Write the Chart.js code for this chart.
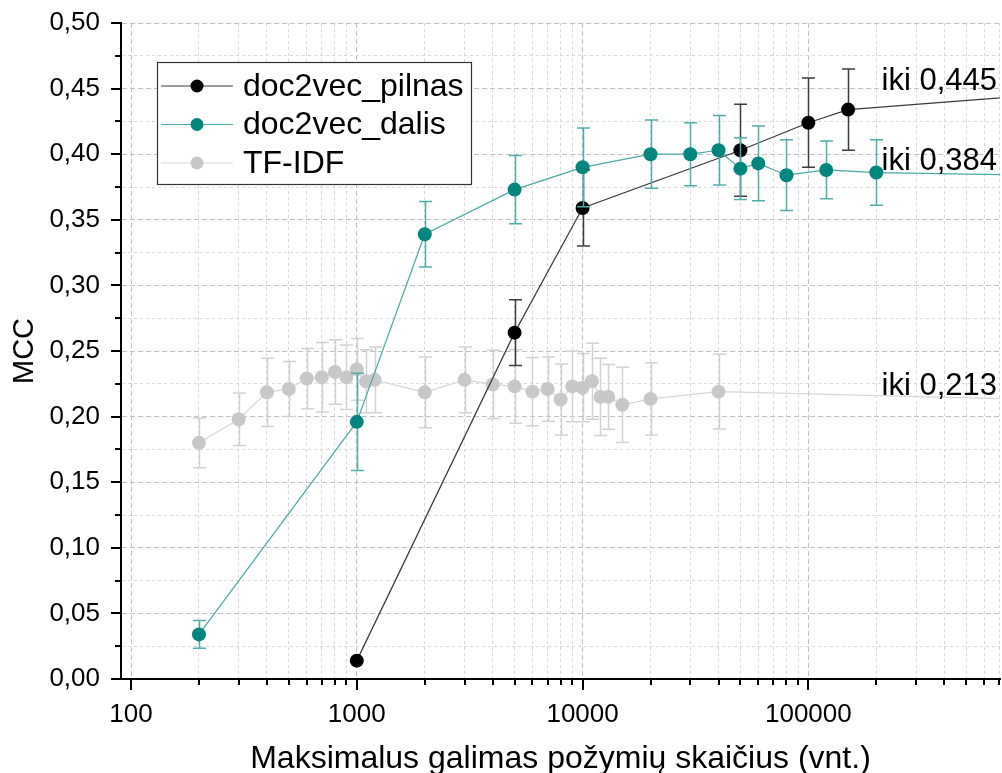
<!DOCTYPE html>
<html>
<head>
<meta charset="utf-8">
<script src="https://cdn.jsdelivr.net/npm/chart.js@4.4.0/dist/chart.umd.min.js"></script>
<style>
  html, body { margin: 0; padding: 0; background: #fff; }
  #box { width: 1002px; height: 773px; }
</style>
</head>
<body>
<div id="box"><canvas id="mcc"></canvas></div>
<script>
// feature count (x) and MCC (y) with +/- spread per run
const pilnasX = [1000, 5000, 10000, 50000, 100000, 150000, 1000000];
const pilnasY = [0.014, 0.264, 0.359, 0.403, 0.424, 0.434, 0.445];
const pilnasErr = [0, 0.025, 0.029, 0.035, 0.034, 0.031, 0];

const dalisX = [200, 1000, 2000, 5000, 10000, 20000, 30000, 40000, 50000, 60000, 80000, 120000, 200000, 1000000];
const dalisY = [0.034, 0.196, 0.339, 0.373, 0.390, 0.400, 0.400, 0.403, 0.389, 0.393, 0.384, 0.388, 0.386, 0.384];
const dalisErr = [0.0105, 0.037, 0.025, 0.026, 0.030, 0.026, 0.024, 0.0265, 0.0235, 0.0285, 0.027, 0.022, 0.025, 0];

const tfidfX = [200, 300, 400, 500, 600, 700, 800, 900, 1000, 1100, 1200, 2000, 3000, 4000, 5000,
  6000, 7000, 8000, 9000, 10000, 11000, 12000, 13000, 15000, 20000, 40000, 1000000];
const tfidfY = [0.180, 0.198, 0.2185, 0.221, 0.229, 0.230, 0.234, 0.230, 0.236, 0.227, 0.228, 0.2185, 0.228, 0.2245, 0.223,
  0.219, 0.221, 0.213, 0.223, 0.222, 0.227, 0.215, 0.215, 0.209, 0.2135, 0.219, 0.213];
const tfidfErr = [0.019, 0.020, 0.026, 0.021, 0.023, 0.0265, 0.0245, 0.0245, 0.0235, 0.024, 0.025, 0.027, 0.025, 0.026, 0.028,
  0.026, 0.0245, 0.027, 0.027, 0.026, 0.029, 0.0295, 0.0247, 0.0287, 0.0275, 0.0285, 0];

const seriesNames = ["doc2vec_pilnas", "doc2vec_dalis", "TF-IDF"];
const decades = [100, 1000, 10000, 100000];
const xMin = 90.3;
const xMax = 706000;

const FONT = "'Liberation Sans', Arial, sans-serif";

function points(xs, ys) {
  return xs.map((x, i) => ({ x: x, y: ys[i] }));
}

// log axis: 1..9 x 10^n, labels only on the decades
function xTickList() {
  const out = [];
  decades.forEach(d => {
    for (let m = 1; m <= 9; m++) {
      const v = d * m;
      if (v >= xMin && v <= xMax) out.push({ value: v, major: m === 1 });
    }
  });
  return out;
}

function yTickList() {
  const out = [];
  for (let i = 0; i <= 20; i++) out.push({ value: i * 0.025, major: i % 2 === 0 });
  return out;
}

const comma = (v, d) => v.toFixed(d).replace(".", ",");

const errorBars = {
  id: "errorBars",
  beforeDatasetDraw(chart, args) {
    const ds = chart.data.datasets[args.index];
    if (!ds.errors) return;
    const { ctx, chartArea: a } = chart;
    const y = chart.scales.y;
    ctx.save();
    ctx.beginPath();
    ctx.rect(a.left, a.top, a.right - a.left, a.bottom - a.top);
    ctx.clip();
    ctx.strokeStyle = ds.errorColor;
    ctx.lineWidth = 1.5;
    ctx.beginPath();
    args.meta.data.forEach((pt, i) => {
      const e = ds.errors[i];
      if (!e) return;
      const v = ds.data[i].y;
      const top = y.getPixelForValue(v + e);
      const bot = y.getPixelForValue(v - e);
      const cx = Math.round(pt.x) + 0.5;
      ctx.moveTo(cx, top);
      ctx.lineTo(cx, bot);
      ctx.moveTo(cx - 6.5, top);
      ctx.lineTo(cx + 6.5, top);
      ctx.moveTo(cx - 6.5, bot);
      ctx.lineTo(cx + 6.5, bot);
    });
    ctx.stroke();
    ctx.restore();
  }
};

const tickMarks = {
  id: "tickMarks",
  afterDraw(chart) {
    const { ctx, chartArea: a, scales: { x, y } } = chart;
    ctx.save();
    ctx.strokeStyle = "#000";
    ctx.lineWidth = 2;
    ctx.beginPath();
    y.ticks.forEach(t => {
      const py = Math.round(y.getPixelForValue(t.value));
      ctx.moveTo(a.left - (t.major ? 10 : 6), py);
      ctx.lineTo(a.left, py);
    });
    x.ticks.forEach(t => {
      const px = Math.round(x.getPixelForValue(t.value));
      ctx.moveTo(px, a.bottom);
      ctx.lineTo(px, a.bottom + (t.major ? 11 : 6));
    });
    ctx.stroke();
    ctx.restore();
  }
};

// "iki ..." notes for the value each curve tends to
const endLabels = {
  id: "endLabels",
  afterDatasetsDraw(chart) {
    const { ctx, chartArea: a } = chart;
    const y = chart.scales.y;
    ctx.save();
    ctx.font = "31px " + FONT;
    ctx.fillStyle = "#000";
    ctx.textAlign = "right";
    ctx.textBaseline = "alphabetic";
    chart.data.datasets.forEach(ds => {
      const last = ds.data[ds.data.length - 1].y;
      ctx.fillText("iki " + comma(last, 3), a.right - 3, y.getPixelForValue(last) - 5);
    });
    ctx.restore();
  }
};

const boxLegend = {
  id: "boxLegend",
  afterDatasetsDraw(chart) {
    const { ctx, chartArea: a } = chart;
    const left = a.left + 36, top = a.top + 39, w = 314, h = 122;
    ctx.save();
    ctx.fillStyle = "#fff";
    ctx.fillRect(left, top, w, h);
    ctx.strokeStyle = "#333";
    ctx.lineWidth = 1.2;
    ctx.strokeRect(left + 0.5, top + 0.5, w, h);
    ctx.font = "32px " + FONT;
    ctx.textBaseline = "middle";
    seriesNames.forEach((name, i) => {
      const ds = chart.data.datasets.find(d => d.label === name);
      const cy = top + 24 + i * 38.5;
      ctx.strokeStyle = ds.borderColor;
      ctx.lineWidth = 1.2;
      ctx.beginPath();
      ctx.moveTo(left + 4, cy);
      ctx.lineTo(left + 76, cy);
      ctx.stroke();
      ctx.fillStyle = ds.pointBackgroundColor;
      ctx.beginPath();
      ctx.arc(left + 40, cy, 6.5, 0, Math.PI * 2);
      ctx.fill();
      ctx.fillStyle = "#000";
      ctx.fillText(name, left + 86, cy + 1);
    });
    ctx.restore();
  }
};

const markerSize = c => (c.raw && c.raw.x > xMax ? 0 : 7);

const gridColor = c => (c.tick && c.tick.major ? "#c0c0c0" : "#d8d8d8");
const gridDash = c => (c.tick ? (c.tick.major ? [5, 3] : [3, 3]) : []);

new Chart(document.getElementById("mcc"), {
  type: "line",
  data: {
    datasets: [
      {
        label: seriesNames[1],
        data: points(dalisX, dalisY),
        errors: dalisErr,
        errorColor: "#4fadaa",
        borderColor: "#4aa9a6",
        pointBackgroundColor: "#00857f",
        pointBorderWidth: 0,
        pointRadius: markerSize,
        borderWidth: 1.2,
        order: 0
      },
      {
        label: seriesNames[0],
        data: points(pilnasX, pilnasY),
        errors: pilnasErr,
        errorColor: "#3c3c3c",
        borderColor: "#3a3a3a",
        pointBackgroundColor: "#000",
        pointBorderWidth: 0,
        pointRadius: markerSize,
        borderWidth: 1.2,
        order: 1
      },
      {
        label: seriesNames[2],
        data: points(tfidfX, tfidfY),
        errors: tfidfErr,
        errorColor: "#d2d2d2",
        borderColor: "#d6d6d6",
        pointBackgroundColor: "#c8c8c8",
        pointBorderWidth: 0,
        pointRadius: markerSize,
        borderWidth: 1.2,
        order: 2
      }
    ]
  },
  options: {
    responsive: true,
    maintainAspectRatio: false,
    animation: false,
    devicePixelRatio: 1,
    layout: { autoPadding: false, padding: { top: 23, right: 2, left: 0, bottom: 0 } },
    plugins: {
      legend: { display: false },
      tooltip: { enabled: false }
    },
    elements: { line: { tension: 0 } },
    scales: {
      x: {
        type: "logarithmic",
        min: xMin,
        max: xMax,
        afterBuildTicks: s => { s.ticks = xTickList(); },
        afterFit: s => {
          s.height = 94;
          s.paddingLeft = 0;
          s.paddingRight = 0;
        },
        ticks: {
          autoSkip: false,
          maxRotation: 0,
          padding: 1,
          color: "#000",
          font: { family: FONT, size: 26 },
          callback: (v, i, t) => (t[i].major ? String(v) : "")
        },
        grid: {
          drawTicks: true,
          tickLength: 19,
          tickColor: "rgba(0,0,0,0)",
          lineWidth: 1,
          color: gridColor
        },
        border: { color: "#000", width: 2, dash: gridDash },
        title: {
          display: true,
          text: "Maksimalus galimas požymių skaičius (vnt.)",
          color: "#000",
          font: { family: FONT, size: 32, lineHeight: 1 },
          padding: { top: 0, bottom: -2 }
        }
      },
      y: {
        min: 0,
        max: 0.5,
        afterBuildTicks: s => { s.ticks = yTickList(); },
        afterFit: s => {
          s.width = 121;
          s.paddingTop = 0;
          s.paddingBottom = 0;
        },
        ticks: {
          autoSkip: false,
          padding: 1,
          color: "#000",
          font: { family: FONT, size: 26 },
          callback: (v, i, t) => (t[i].major ? comma(v, 2) : "")
        },
        grid: {
          drawTicks: true,
          tickLength: 20,
          tickColor: "rgba(0,0,0,0)",
          lineWidth: 1,
          color: gridColor
        },
        border: { color: "#000", width: 2, dash: gridDash },
        title: {
          display: true,
          text: "MCC",
          color: "#000",
          font: { family: FONT, size: 29, lineHeight: 1 },
          padding: { top: 10, bottom: 0 }
        }
      }
    }
  },
  plugins: [errorBars, tickMarks, endLabels, boxLegend]
});
</script>
</body>
</html>
